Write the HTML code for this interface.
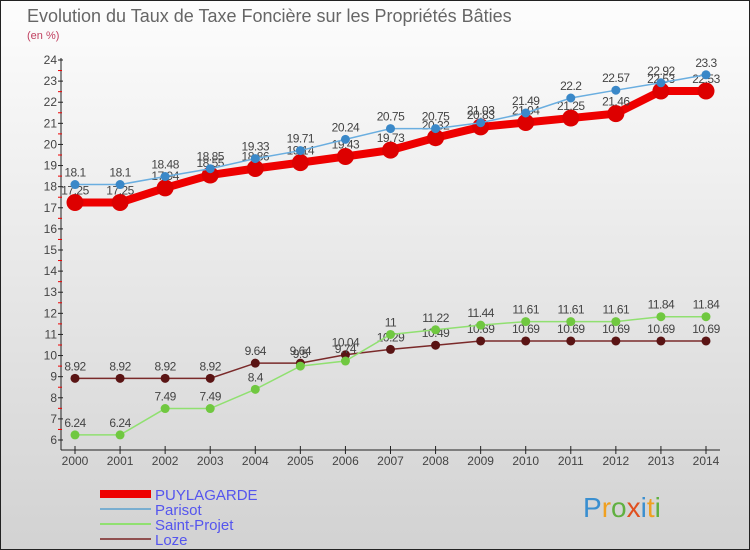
<!DOCTYPE html>
<html><head><meta charset="utf-8"><style>
body{margin:0;width:750px;height:550px;overflow:hidden;font-family:"Liberation Sans",sans-serif}
svg{display:block}
</style></head><body>
<svg id="c" width="750" height="550" viewBox="0 0 750 550">
<defs><linearGradient id="bg" x1="0" y1="0" x2="0" y2="1"><stop offset="0" stop-color="#fdfdfd"/><stop offset="1" stop-color="#d2d2d2"/></linearGradient></defs>
<rect x="0.5" y="0.5" width="749" height="549" fill="url(#bg)" stroke="#222"/>
<text x="27" y="22" font-size="18" fill="#666">Evolution du Taux de Taxe Foncière sur les Propriétés Bâties</text>
<text x="27" y="39" font-size="11" fill="#c04060">(en %)</text>
<g id="axes"></g><g id="series"></g><g id="legend"></g>
<text x="583" y="517" font-size="28" fill="#3a8fd0"><tspan fill="#3a8fd0">P</tspan><tspan fill="#f0a020">r</tspan><tspan fill="#60b040">o</tspan><tspan fill="#e05020">x</tspan><tspan fill="#3a8fd0">i</tspan><tspan fill="#f0a020">t</tspan><tspan fill="#60b040">i</tspan></text>
</svg>
<script>
const years=[2000,2001,2002,2003,2004,2005,2006,2007,2008,2009,2010,2011,2012,2013,2014];
const yTicks=[6,7,8,9,10,11,12,13,14,15,16,17,18,19,20,21,22,23,24];
const puylagarde=[17.25,17.25,17.94,18.55,18.86,19.14,19.43,19.73,20.32,20.83,21.04,21.25,21.46,22.53,22.53];
const parisot=[18.1,18.1,18.48,18.85,19.33,19.71,20.24,20.75,20.75,21.03,21.49,22.2,22.57,22.92,23.3];
const saintProjet=[6.24,6.24,7.49,7.49,8.4,9.5,9.74,11,11.22,11.44,11.61,11.61,11.61,11.84,11.84];
const loze=[8.92,8.92,8.92,8.92,9.64,9.64,10.04,10.29,10.49,10.69,10.69,10.69,10.69,10.69,10.69];
const seriesNames=["PUYLAGARDE","Parisot","Saint-Projet","Loze"];
const NS="http://www.w3.org/2000/svg";
const X=i=>75+i*(706-75)/(years.length-1);
const Y=v=>60+(24-v)*(440-60)/18;
function mk(tag,attrs,parent){const e=document.createElementNS(NS,tag);for(const k in attrs)e.setAttribute(k,attrs[k]);parent.appendChild(e);return e;}
const ax=document.getElementById('axes');
let yl=mk('line',{x1:61,y1:58,x2:61,y2:450,stroke:'#222','stroke-width':1},ax);


let xl=mk('line',{x1:61,y1:450,x2:720,y2:450,stroke:'#222','stroke-width':1},ax);


yTicks.forEach(v=>{
  mk('line',{x1:58,y1:Y(v),x2:63,y2:Y(v),stroke:'#222'},ax);
  if(v<24)mk('line',{x1:58,y1:Y(v+0.5),x2:62,y2:Y(v+0.5),stroke:'#e00'},ax);
  const t=mk('text',{x:57,y:Y(v)+4,'font-size':12,fill:'#444','text-anchor':'end'},ax);
  t.textContent=v;
  
  
});
years.forEach((yr,i)=>{
  mk('line',{x1:X(i),y1:446,x2:X(i),y2:454,stroke:'#222'},ax);
  const t=mk('text',{x:X(i),y:465,'font-size':12,fill:'#444','text-anchor':'middle'},ax);
  t.textContent=yr;
  
  
});
const sg=document.getElementById('series');
const defs=[[loze,'#7a2a2a','#5a1414',1.5,4.5],[saintProjet,'#90e070','#70c840',1.5,4.5],[puylagarde,'#ee0000','#dd0000',8,8.5],[parisot,'#6aaee0','#3a88c8',1.5,4.5]];
defs.forEach(([d,c,mc,w,r])=>{
  const g=mk('g',{},sg);
  
  
  mk('polyline',{points:d.map((v,i)=>X(i)+','+Y(v)).join(' '),fill:'none',stroke:c,'stroke-width':w},g);
  d.forEach((v,i)=>{
    const p=mk('circle',{cx:X(i),cy:Y(v),r:r,fill:mc},g);
    
    
    const t=mk('text',{x:X(i),y:Y(v)-8,'font-size':12,fill:'#444','text-anchor':'middle','letter-spacing':'-0.5'},g);
    t.textContent=v;
    
    
  });
});
const lg=document.getElementById('legend');
const lc=[['#ee0000',8],['#7aaed0',2],['#90e070',2],['#905050',2]];
seriesNames.forEach((n,i)=>{
  const y=493+i*15;
  const g=mk('g',{},lg);
  
  
  mk('line',{x1:100,y1:y+1,x2:151,y2:y+1,stroke:lc[i][0],'stroke-width':lc[i][1]},g);
  const t=mk('text',{x:155,y:y+7,'font-size':15,fill:'#5555ee'},g);
  t.textContent=n;
});
</script>
</body></html>
